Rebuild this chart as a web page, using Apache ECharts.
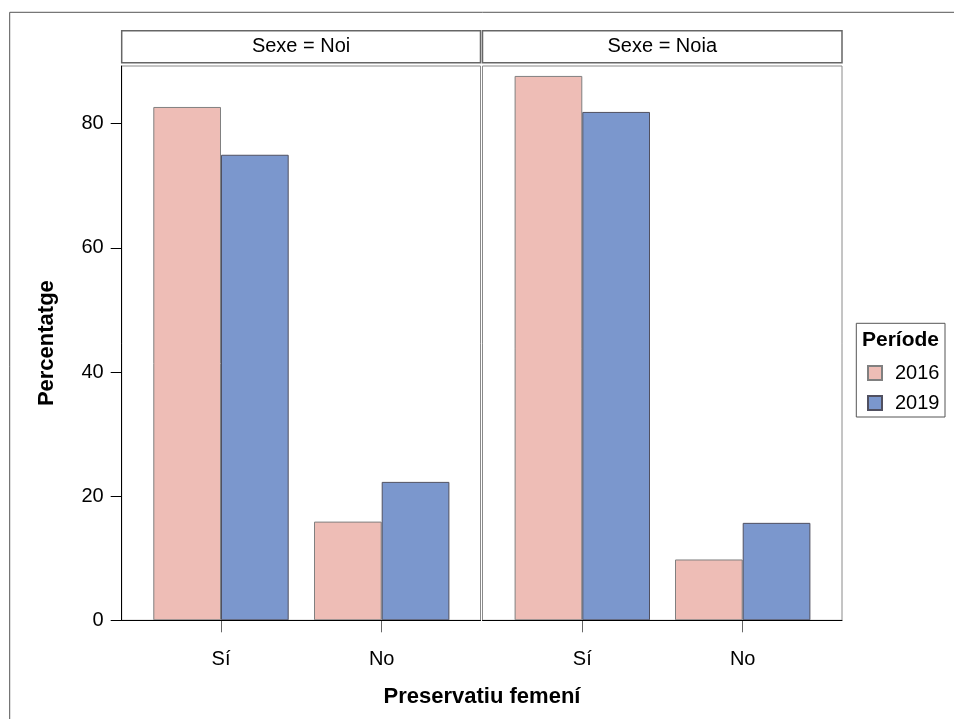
<!DOCTYPE html>
<html>
<head>
<meta charset="utf-8">
<script src="https://cdn.jsdelivr.net/npm/echarts@6/dist/echarts.min.js"></script>
<style>html,body{margin:0;padding:0;background:#fff}#c{width:954px;height:719px}</style>
</head>
<body>
<div id="c"></div>
<script>
// ---- data ----
const categories = ['Sí', 'No'];
const panels = ['Sexe = Noi', 'Sexe = Noia'];
const periods = ['2016', '2019'];
const noi2016 = [82.7, 15.9];
const noi2019 = [75.0, 22.3];
const noia2016 = [87.7, 9.8];
const noia2019 = [81.9, 15.7];
const yTicks = [0, 20, 40, 60, 80];
const yMax = 89.3;
const legendTitle = 'Període';
const xTitle = 'Preservatiu femení';
const yTitle = 'Percentatge';

// ---- style ----
const FONT = '"Liberation Sans", Arial, sans-serif';
const COL16 = '#EEBDB6';
const COL19 = '#7B97CD';
const TOP = 66, BOTTOM = 719 - 620.3;
const frames = [{ left: 121.7, right: 480.5 }, { left: 482.5, right: 842 }];
const barGrids = [{ left: 140.65, right: 462.05 }, { left: 502.1, right: 822.9 }];

const chart = echarts.init(document.getElementById('c'), null, { renderer: 'canvas' });

const grids = [], xAxes = [], yAxes = [];
for (let p = 0; p < 2; p++) {
  const f = frames[p], b = barGrids[p];
  grids.push({ left: f.left, width: f.right - f.left, top: TOP, bottom: BOTTOM, show: true, borderColor: '#8a8a8a', borderWidth: 1, containLabel: false });
  grids.push({ left: b.left, width: b.right - b.left, top: TOP, bottom: BOTTOM, show: false, containLabel: false });
  // frame axes
  xAxes.push({
    gridIndex: 2 * p, type: 'value', min: 0, max: 1, z: 5,
    axisLine: { show: true, lineStyle: { color: '#000', width: 1 } },
    axisTick: { show: false }, axisLabel: { show: false }, splitLine: { show: false }
  });
  yAxes.push({
    gridIndex: 2 * p, type: 'value', min: 0, max: yMax, z: 5,
    axisLine: { show: p === 0, lineStyle: { color: '#000', width: 1 } },
    axisTick: { show: p === 0, inside: false, length: 11, lineStyle: { color: '#000' }, customValues: yTicks },
    axisLabel: { show: p === 0, fontSize: 20, fontFamily: FONT, color: '#000', margin: 18, customValues: yTicks },
    splitLine: { show: false },
    name: p === 0 ? yTitle : '', nameLocation: 'middle', nameGap: 64,
    nameTextStyle: { fontSize: 22, fontWeight: 'bold', fontFamily: FONT, color: '#000' }
  });
  // bar axes
  xAxes.push({
    gridIndex: 2 * p + 1, type: 'category', data: categories,
    axisLine: { show: false },
    axisTick: { show: true, alignWithLabel: true, length: 12, lineStyle: { color: '#666' } },
    axisLabel: { fontSize: 20, fontFamily: FONT, color: '#000', margin: 29 },
  });
  yAxes.push({ gridIndex: 2 * p + 1, type: 'value', min: 0, max: yMax, show: false, splitLine: { show: false } });
}

function barSeries(name, data, axis, color, border) {
  return {
    name, type: 'bar', data, xAxisIndex: axis, yAxisIndex: axis,
    barWidth: 67.7, barGap: '0%',
    itemStyle: { color, borderColor: border, borderWidth: 1 }
  };
}

chart.setOption({
  animation: false,
  backgroundColor: '#fff',
  textStyle: { fontFamily: FONT },
  grid: grids, xAxis: xAxes, yAxis: yAxes,
  legend: {
    data: periods, orient: 'vertical', left: 862, top: 358,
    itemWidth: 14, itemHeight: 14, itemGap: 10,
    textStyle: { fontSize: 20, fontFamily: FONT, color: '#000', padding: [0, 0, 0, 8] },
    icon: 'rect'
  },
  series: [
    barSeries(periods[0], noi2016, 1, COL16, '#808080'),
    barSeries(periods[1], noi2019, 1, COL19, '#505060'),
    barSeries(periods[0], noia2016, 3, COL16, '#808080'),
    barSeries(periods[1], noia2019, 3, COL19, '#505060')
  ],
  graphic: [
    { type: 'rect', shape: { x: 9.7, y: 12.3, width: 1000, height: 1000 }, style: { fill: null, stroke: '#555', lineWidth: 1 }, silent: true },
    { type: 'rect', shape: { x: frames[0].left, y: 30.7, width: frames[0].right - frames[0].left, height: 32 }, style: { fill: '#fff', stroke: '#666', lineWidth: 1.5 } },
    { type: 'rect', shape: { x: frames[1].left, y: 30.7, width: frames[1].right - frames[1].left, height: 32 }, style: { fill: '#fff', stroke: '#666', lineWidth: 1.5 } },
    { type: 'text', x: (frames[0].left + frames[0].right) / 2, y: 46.7, style: { text: panels[0], font: '20px ' + FONT, fill: '#000', textAlign: 'center', textVerticalAlign: 'middle' } },
    { type: 'text', x: (frames[1].left + frames[1].right) / 2, y: 46.7, style: { text: panels[1], font: '20px ' + FONT, fill: '#000', textAlign: 'center', textVerticalAlign: 'middle' } },
    { type: 'rect', shape: { x: 856.3, y: 323.3, width: 88.7, height: 93.7 }, style: { fill: null, stroke: '#555', lineWidth: 1 } },
    { type: 'text', x: 900.5, y: 340, style: { text: legendTitle, font: 'bold 21px ' + FONT, fill: '#000', textAlign: 'center', textVerticalAlign: 'middle' } },
    { type: 'text', x: 482, y: 697, style: { text: xTitle, font: 'bold 22px ' + FONT, fill: '#000', textAlign: 'center', textVerticalAlign: 'middle' } }
  ]
});
</script>
</body>
</html>
